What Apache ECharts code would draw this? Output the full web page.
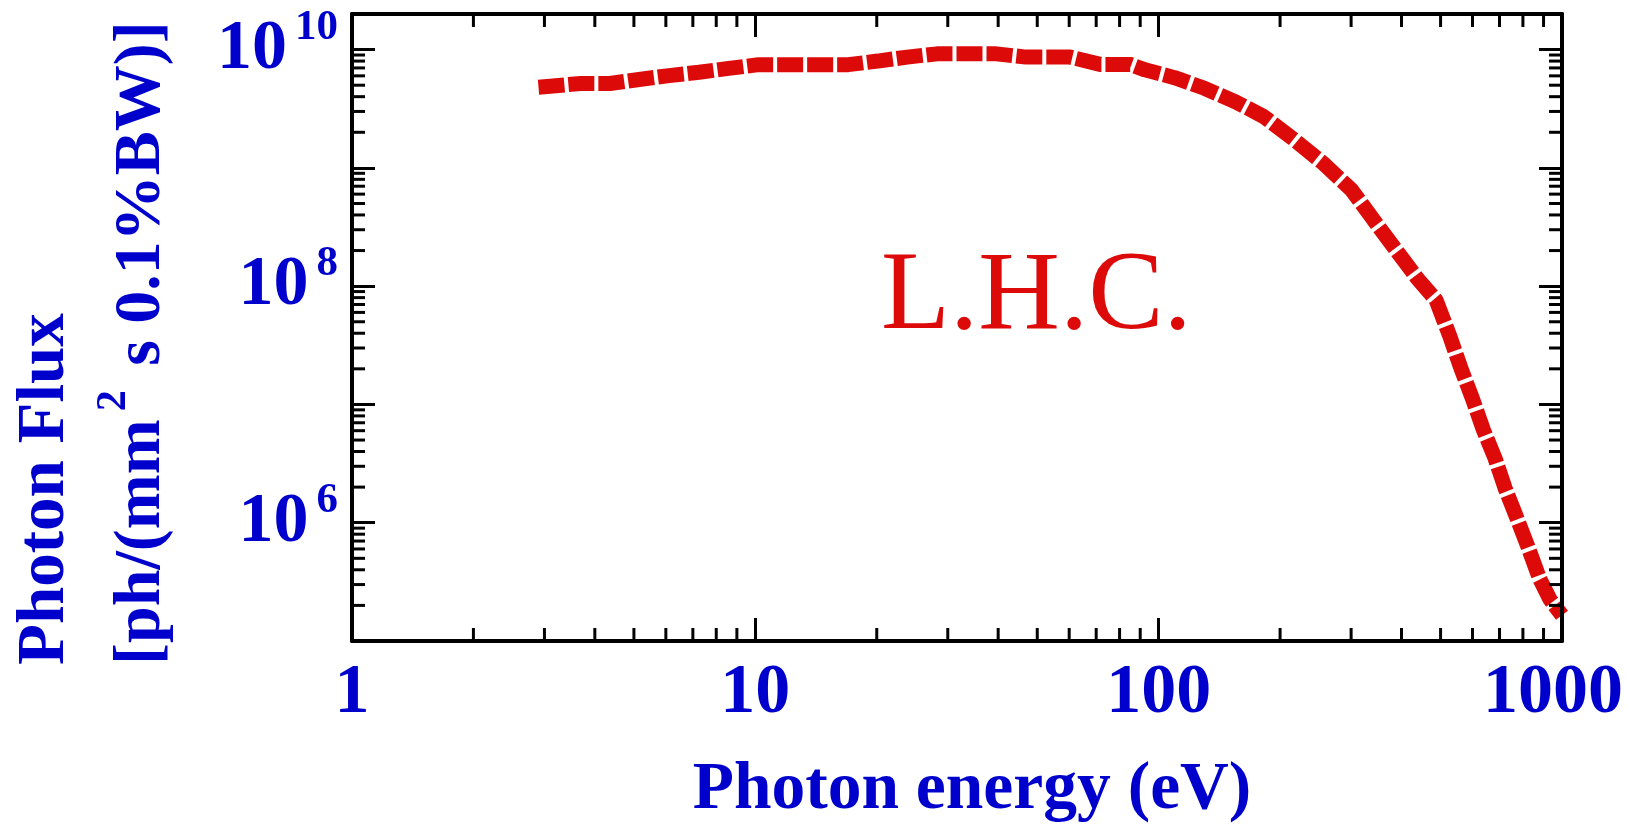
<!DOCTYPE html>
<html>
<head>
<meta charset="utf-8">
<script src="https://cdn.jsdelivr.net/npm/echarts@6/dist/echarts.min.js"></script>
<style>
  html, body { margin: 0; padding: 0; background: #ffffff; }
  #chart { width: 1626px; height: 827px; }
</style>
</head>
<body>
<div id="chart"></div>
<script>
// ---- data ----
const energy = [2.9, 3.69, 4.36, 5.15, 6.11, 7.25, 8.59, 10.2, 12.1, 14.3, 17.0, 20.1, 23.8, 28.2, 33.5, 39.6,
  46.9, 55.5, 60.3, 71.6, 85.0, 92.5, 109.5, 129.9, 155.1, 182.0, 215.9, 256.2, 300.5, 340.8, 386.2, 439.8,
  487.3, 527.9, 561.3, 599.7, 638.5, 682.6, 722.6, 772.5, 825.3, 879.0, 934.3, 1000];
const flux = [4.81e9, 5.17e9, 5.17e9, 5.59e9, 6.03e9, 6.44e9, 6.94e9, 7.46e9, 7.46e9, 7.46e9, 7.46e9, 8.0e9,
  8.64e9, 9.21e9, 9.21e9, 9.21e9, 8.64e9, 8.64e9, 8.64e9, 7.5e9, 7.5e9, 6.74e9, 5.79e9, 4.71e9, 3.62e9,
  2.72e9, 1.75e9, 1.09e9, 6.53e8, 3.65e8, 2.06e8, 1.14e8, 7.63e7, 3.72e7, 2.03e7, 1.12e7, 6.08e6, 3.49e6,
  1.96e6, 1.10e6, 6.12e5, 3.40e5, 2.24e5, 1.65e5];

const X_MIN = 1, X_MAX = 1000;
const Y_MIN = 1e5, Y_MAX = 2e10;
const xTickLabels = [1, 10, 100, 1000];
const yLabelExponents = [6, 8, 10];
const minorMultipliers = [2, 3, 4, 5, 6, 7, 8, 9];
const xDecades = [0, 1, 2];
const yDecades = [5, 6, 7, 8, 9, 10];

const xMinorTicks = [];
xDecades.forEach(d => minorMultipliers.forEach(m => xMinorTicks.push(Number((m * Math.pow(10, d)).toPrecision(6)))));
const yMinorTicks = [];
yDecades.forEach(d => minorMultipliers.forEach(m => {
  const v = Number((m * Math.pow(10, d)).toPrecision(6));
  if (v < Y_MAX) yMinorTicks.push(v);
}));

const BLUE = '#0000cc';
const RED = '#dd0a0a';
const SERIF = "'Liberation Serif', 'Times New Roman', serif";

const chart = echarts.init(document.getElementById('chart'));

const baseTxt = { fontFamily: SERIF, fontWeight: 'bold', fontSize: 70, color: BLUE };
const supTxt = { fontFamily: SERIF, fontWeight: 'bold', fontSize: 43, color: BLUE };

const axisCommon = {
  type: 'log', logBase: 10, interval: 1,
  axisLine: { show: true, onZero: false, lineStyle: { color: '#000', width: 4 } },
  axisTick: { show: true, inside: true, length: 23, lineStyle: { color: '#000', width: 3 } },
  splitLine: { show: false },
  minorTick: { show: false },
  z: 10
};

const option = {
  backgroundColor: '#ffffff',
  animation: false,
  grid: { left: 352, right: 64, top: 14, bottom: 186, containLabel: false },
  xAxis: [
    Object.assign({}, axisCommon, {
      min: X_MIN, max: X_MAX, position: 'bottom',
      axisLabel: {
        show: true, margin: 18,
        formatter: v => xTickLabels.indexOf(v) < 0 ? '' : (v === 1000 ? '{r|1000}' : '{a|' + v + '}'),
        rich: {
          a: Object.assign({}, baseTxt),
          r: Object.assign({}, baseTxt, { padding: [0, 18, 0, 0] })
        }
      }
    }),
    Object.assign({}, axisCommon, {
      min: X_MIN, max: X_MAX, position: 'top',
      axisLabel: { show: false }
    })
  ],
  yAxis: [
    Object.assign({}, axisCommon, {
      min: Y_MIN, max: Y_MAX, position: 'left',
      axisLabel: {
        show: true, margin: 14,
        formatter: v => {
          const l = Math.log10(v);
          const e = Math.round(l);
          if (Math.abs(l - e) > 1e-6 || yLabelExponents.indexOf(e) < 0) return '';
          return '{b|10}{s|' + e + '}';
        },
        rich: {
          b: Object.assign({}, baseTxt),
          s: Object.assign({}, supTxt, { padding: [0, 0, 44, 8] })
        }
      }
    }),
    Object.assign({}, axisCommon, {
      min: Y_MIN, max: Y_MAX, position: 'right',
      axisLabel: { show: false }
    })
  ],
  series: [
    {
      type: 'line',
      xAxisIndex: 0, yAxisIndex: 0,
      data: energy.map((e, i) => [e, flux[i]]),
      showSymbol: false,
      clip: false,
      lineStyle: { color: RED, width: 15, type: [26, 4], cap: 'butt', join: 'bevel' },
      z: 3
    },
    {
      type: 'custom',
      xAxisIndex: 0, yAxisIndex: 0,
      clip: false,
      silent: true,
      z: 11,
      data: xMinorTicks.map(v => [v, Y_MIN]),
      renderItem: (params, api) => {
        const v = api.value(0);
        const pb = api.coord([v, Y_MIN]);
        const pt = api.coord([v, Y_MAX]);
        const st = { stroke: '#000', lineWidth: 3 };
        return { type: 'group', children: [
          { type: 'line', shape: { x1: pb[0], y1: pb[1], x2: pb[0], y2: pb[1] - 13 }, style: st },
          { type: 'line', shape: { x1: pt[0], y1: pt[1], x2: pt[0], y2: pt[1] + 13 }, style: st }
        ] };
      }
    },
    {
      type: 'custom',
      xAxisIndex: 0, yAxisIndex: 0,
      clip: false,
      silent: true,
      z: 11,
      data: yMinorTicks.map(v => [X_MIN, v]),
      renderItem: (params, api) => {
        const v = api.value(1);
        const pl = api.coord([X_MIN, v]);
        const pr = api.coord([X_MAX, v]);
        const st = { stroke: '#000', lineWidth: 3 };
        return { type: 'group', children: [
          { type: 'line', shape: { x1: pl[0], y1: pl[1], x2: pl[0] + 13, y2: pl[1] }, style: st },
          { type: 'line', shape: { x1: pr[0], y1: pr[1], x2: pr[0] - 13, y2: pr[1] }, style: st }
        ] };
      }
    }
  ],
  graphic: [
    {
      type: 'text', x: 881, y: 298, z: 20,
      style: { text: 'L.H.C.', fill: RED, fontFamily: SERIF, fontSize: 113, fontWeight: 'normal', align: 'left', verticalAlign: 'middle' }
    },
    {
      type: 'text', x: 972, y: 791, z: 20,
      style: { text: 'Photon energy (eV)', fill: BLUE, fontFamily: SERIF, fontSize: 67.5, fontWeight: 'bold', align: 'center', verticalAlign: 'middle' }
    },
    {
      type: 'text', x: 46, y: 665, rotation: Math.PI / 2, z: 20,
      style: { text: 'Photon Flux', fill: BLUE, fontFamily: SERIF, fontSize: 67, fontWeight: 'bold', align: 'left', verticalAlign: 'middle' }
    },
    {
      type: 'text', x: 142, y: 665, rotation: Math.PI / 2, z: 20,
      style: {
        text: '{b|[ph/(mm}{s|2}{b| s 0.1%BW)]}',
        fill: BLUE, fontFamily: SERIF, fontSize: 66, fontWeight: 'bold', align: 'left', verticalAlign: 'middle',
        rich: {
          b: { fontFamily: SERIF, fontSize: 66, fontWeight: 'bold', fill: BLUE },
          s: { fontFamily: SERIF, fontSize: 42, fontWeight: 'bold', fill: BLUE, padding: [0, 8, 55, 8] }
        }
      }
    }
  ]
};

chart.setOption(option);
</script>
</body>
</html>
